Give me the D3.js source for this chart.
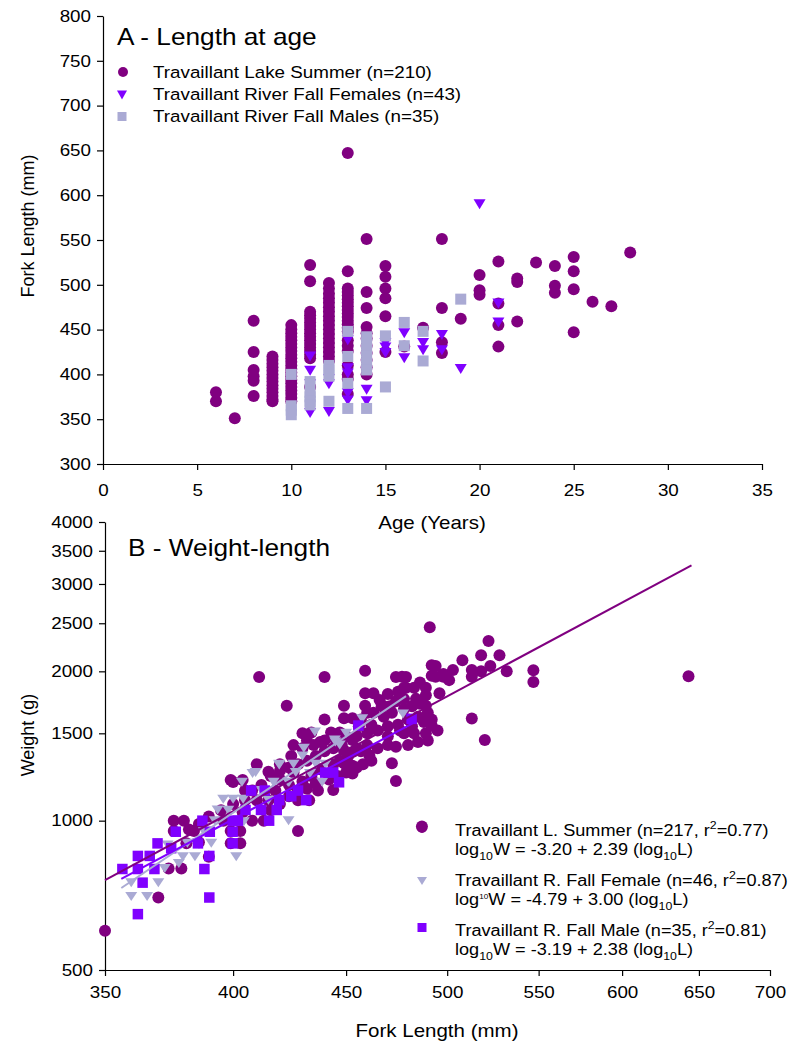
<!DOCTYPE html>
<html><head><meta charset="utf-8">
<script src="https://cdn.jsdelivr.net/npm/d3@7"></script>
<style>
body{margin:0;background:#fff}
svg{display:block}
text{font-family:"Liberation Sans",Arial,sans-serif;fill:#000}
</style>
</head><body>
<svg id="chart" width="797" height="1049"></svg>
<script>
// ---------------- DATA ----------------
const ageTicks = [0,5,10,15,20,25,30,35];
const lengthTicksA = [300,350,400,450,500,550,600,650,700,750,800];
const forkTicksB = [350,400,450,500,550,600,650,700];
const weightTicksB = [500,1000,1500,2000,2500,3000,3500,4000];

const seriesNamesA = ["Travaillant Lake Summer (n=210)","Travaillant River Fall Females (n=43)","Travaillant River Fall Males (n=35)"];

// Panel A: [age, fork length]
const lakeSummerA = [
[6,380],[6,370],[7,351],
[8,460],[8,425],[8,405],[8,398],[8,393],[8,376],
[9,420],[9,416],[9,412],[9,408],[9,404],[9,400],[9,396],[9,392],[9,388],[9,384],[9,380],[9,376],[9,372],[9,370],
[10,455],[10,450],[10,446],[10,442],[10,438],[10,434],[10,430],[10,426],[10,422],[10,418],[10,414],[10,410],[10,406],[10,402],[10,398],[10,394],[10,390],[10,386],[10,382],[10,378],[10,374],[10,370],
[11,522],[11,504],[11,470],[11,466],[11,462],[11,458],[11,454],[11,450],[11,446],[11,442],[11,438],[11,434],[11,430],[11,426],[11,422],[11,418],[11,386],
[12,502],[12,496],[12,490],[12,485],[12,480],[12,475],[12,470],[12,465],[12,460],[12,455],[12,450],[12,445],[12,440],[12,435],[12,430],[12,425],[12,420],[12,415],
[13,647],[13,515],[13,496],[13,492],[13,488],[13,484],[13,480],[13,476],[13,472],[13,468],[13,464],[13,460],[13,456],[13,452],[13,448],[13,438],[13,432],[13,426],[13,410],[13,400],[13,395],[13,378],
[14,551],[14,492],[14,474],[14,453],[14,446],[14,440],[14,432],[14,424],[14,416],[14,408],[14,400],
[15,521],[15,509],[15,496],[15,485],[15,465],[15,425],
[16,431],[17,452],
[18,551],[18,474],[18,436],[18,424],
[19,462],
[20,511],[20,494],[20,489],
[21,526],[21,479],[21,455],[21,431],
[22,507],[22,503],[22,459],
[23,525],
[24,521],[24,499],[24,491],
[25,531],[25,515],[25,495],[25,447],
[26,481],[27,476],[28,536]
];
const riverFemalesA = [
[11,420],[11,404],[11,389],[11,357],
[12,395],[12,389],[12,358],
[13,438],[13,407],[13,401],[13,379],[13,371],
[14,383],[14,370],
[15,435],[15,430],[15,424],
[16,446],[16,418],
[17,435],[17,427],
[18,444],[18,427],
[19,406],[20,590],
[21,479],[21,458]
];
const riverMalesA = [
[10,400],[10,365],[10,360],[10,355],
[11,392],[11,380],[11,375],[11,370],[11,366],
[12,410],[12,405],[12,398],[12,370],
[13,448],[13,420],[13,390],[13,362],
[14,442],[14,435],[14,428],[14,420],[14,412],[14,405],[14,362],
[15,443],[15,386],
[16,458],[16,432],
[17,448],[17,415],
[19,484]
];

// Panel B: [fork length mm, weight g]
const lakeSummerB = [
[350,600],[370,700],[374,801],[379,801],[381,900],[376,953],[384,953],[376,1000],[380,1000],[386,905],[390,846],
[399,953],[403,953],[399,900],[403,900],[396,1000],[404,1040],[408,1000],[413,1000],[410,1100],[415,1100],
[399,1208],[404,1208],[410,1300],[415,1255],[400,1196],[405,1150],[412,1180],[418,1150],[420,1210],[424,1180],
[428,953],[428,1100],[433,1100],[437,1150],[444,1153],
[426,1250],[430,1200],[434,1230],[438,1270],[442,1245],[444,1300],[447,1320],[453,1245],[451,1350],[453,1290],
[453,1375],[453,1454],[449,1385],[449,1305],[457,1380],[461,1355],[465,1400],[470,1420],[474,1409],[472,1305],
[474,1202],[487,973],[430,1500],[434,1505],[443,1505],[447,1505],[440,1600],[449,1608],[453,1608],[423,1705],
[449,1705],[459,1705],[459,1806],[463,1806],[440,1948],[411,1948],[459,2005],[474,1948],[479,1948],[479,1853],
[483,1853],[489,1853],[492,2058],[497,1960],[492,1960],[496,1806],[468,1700],[471,1700],
[491,2454],[522,2302],[518,2155],[528,2155],[508,2105],[494,2050],[523,2050],[513,2012],[518,2000],[503,2012],
[498,1975],[532,2000],[547,2010],[547,1904],[643,1955],[494,1950],[477,1950],[498,1950],[501,1920],[513,1950],
[478,1853],[489,1790],[484,1760],[489,1705],[513,1606],[520,1454],[492,1554],[483,1500],[489,1500],[478,1500],
[455,1480],[460,1500],[465,1520],[470,1550],[475,1560],[480,1600],[485,1620],[490,1650],[462,1560],[468,1620],
[472,1650],[478,1680],[482,1700],[486,1720],[457,1600],[463,1650],[467,1700],[474,1740],[478,1760],[470,1480],
[476,1520],[482,1550],[488,1580],[492,1600],[495,1520],[490,1450],[485,1440],[480,1420],[460,1420],[455,1400],
[448,1420],[444,1400],[440,1380],[436,1350],[432,1320],[428,1300],[424,1280],[420,1260],[416,1230],[440,1450],
[445,1460],[450,1480],[420,1300],[425,1350],[430,1400],[435,1420],[438,1440],[426,1420],[432,1450],
[405,1100],[408,1150],[400,1080],[395,1050],[390,1020],[386,985],[382,960],[416,1050],[420,1080],[424,1120],
[428,1150],[432,1160],[436,1190],[442,1210],[446,1230],[450,1250],[455,1280],[458,1300],[462,1320],
[466,1750],[470,1800],[475,1820],[486,1900],[460,1650],[456,1550]
];
const riverFemaleB = [
[359.7,703],[365.7,703],[359.7,750],[373.6,893],[372.5,801],[379.6,846],[384.4,846],[381.4,900],[391,900],[401.3,846],
[423.8,1000],[392.4,1000],[393.6,1051],[395.9,1105],[400,1105],[404.2,1105],[408.2,1245],[403.7,1195],[417.2,1195],[423.6,1195],
[419.7,1300],[426,1300],[433.4,1245],[438.9,1195],[404.5,995],[430.6,1399],[419.7,1295],[440.4,1300],[409.5,1250],[424,1195],
[435.6,1510],[444.7,1454],[477.5,1640],[457.6,1604],[370,750],[388,950],[412,1150],[430,1350],[445,1440],[450,1500],
[415,1100],[398,1050],[378,820],[436,1300],[447,1420],[427,1250]
];
const riverMaleB = [
[356.4,799],[362.2,849],[366.7,849],[362.2,799],[364,750],[362.2,648],[369.7,900],[376.8,950],[368.5,799],[390.2,700],
[388.2,799],[390.2,849],[385.6,900],[387.4,1000],[390.4,950],[399.8,1000],[399.8,950],[399.8,900],[405.2,1051],[411.8,1051],
[418.6,1051],[415.3,1000],[407.6,1150],[413.4,1150],[419.7,1100],[428,1150],[431.7,1100],[440.3,1250],[446.7,1195],[455.8,1555],
[481.8,1604],[444,1250],[375,880],[402,1000],[425,1120]
];

// regression fits from the legend: log10W = a + b log10L, drawn over the observed length range
const fitIntercepts = [-3.20, -4.79, -3.19];
const fitSlopes = [2.39, 3.00, 2.38];
const fitRanges = [[350,645],[356,479],[356,483]];

// ---------------- DRAW ----------------
const SX = 1.14;
const PURPLE = "#800080", VIOLET = "#8000ff", LAV = "#aaaad4";
const svg = d3.select("#chart");

function txt(parent, x, y, s, fs, anchor, rot) {
  const t = parent.append("text")
    .attr("transform", `translate(${x},${y})` + (rot ? ` rotate(${rot})` : "") + (rot ? "" : ` scale(${SX},1)`))
    .attr("font-size", fs).attr("text-anchor", anchor || "start").text(s);
  return t;
}
function rich(parent, x, y, parts, fs, sx) {
  const t = parent.append("text").attr("transform", `translate(${x},${y}) scale(${sx},1)`).attr("font-size", fs);
  let off = 0;
  parts.forEach(([s, k]) => {
    const target = k === "sub" ? fs * 0.32 : k === "sup" ? -fs * 0.42 : k === "tsup" ? -fs * 0.38 : 0;
    const sz = (k === "sub" || k === "sup") ? fs * 0.68 : k === "tsup" ? fs * 0.45 : fs;
    t.append("tspan").attr("dy", target - off).attr("font-size", sz).text(s);
    off = target;
  });
}
const triPath = (w, h) => `M${-w/2},${-h/2}L${w/2},${-h/2}L0,${h/2}Z`;

function drawCircles(g, data, x, y, r, color) {
  g.selectAll(null).data(data).join("circle")
    .attr("cx", d => x(d[0])).attr("cy", d => y(d[1])).attr("r", r).attr("fill", color);
}
function drawTris(g, data, x, y, w, h, color) {
  g.selectAll(null).data(data).join("path")
    .attr("d", triPath(w, h)).attr("transform", d => `translate(${x(d[0])},${y(d[1])})`).attr("fill", color);
}
function drawSquares(g, data, x, y, s, color) {
  g.selectAll(null).data(data).join("rect")
    .attr("x", d => x(d[0]) - s/2).attr("y", d => y(d[1]) - s/2).attr("width", s).attr("height", s).attr("fill", color);
}
function styleAxis(g) {
  g.selectAll("path.domain").attr("stroke", "#000").attr("stroke-width", 1.2);
  g.selectAll(".tick line").attr("stroke", "#000").attr("stroke-width", 1.2);
  g.selectAll(".tick text").attr("font-family", '"Liberation Sans",Arial,sans-serif').attr("font-size", 16.5).attr("fill", "#000");
}

// ---------- Panel A ----------
const xA = d3.scaleLinear().domain([0, 35]).range([103, 762]);
const yA = d3.scaleLinear().domain([300, 800]).range([464, 16]);
const gA = svg.append("g");

const axA_y = gA.append("g").attr("transform", "translate(103,0)")
  .call(d3.axisLeft(yA).tickValues(lengthTicksA).tickSize(6).tickSizeOuter(0).tickPadding(6));
const axA_x = gA.append("g").attr("transform", "translate(0,464)")
  .call(d3.axisBottom(xA).tickValues(ageTicks).tickSize(6).tickSizeOuter(0).tickPadding(14));
[axA_y, axA_x].forEach(styleAxis);
axA_y.selectAll(".tick text").attr("transform", `scale(${SX},1)`).attr("x", -10.5);
axA_x.selectAll(".tick text").attr("transform", `scale(${SX},1)`);

drawCircles(gA, lakeSummerA, xA, yA, 6, PURPLE);
drawTris(gA, riverFemalesA, xA, yA, 12, 10, VIOLET);
drawSquares(gA, riverMalesA, xA, yA, 11, LAV);

txt(gA, 117, 45, "A - Length at age", 23);
// legend A
gA.append("circle").attr("cx", 123).attr("cy", 72).attr("r", 5).attr("fill", PURPLE);
gA.append("path").attr("d", triPath(10, 9)).attr("transform", "translate(122,95)").attr("fill", VIOLET);
gA.append("rect").attr("x", 117.5).attr("y", 112).attr("width", 9).attr("height", 9).attr("fill", LAV);
txt(gA, 153, 78, seriesNamesA[0], 16.5);
txt(gA, 153, 100, seriesNamesA[1], 16.5);
txt(gA, 153, 122, seriesNamesA[2], 16.5);

txt(gA, 28, 226, "Fork Length (mm)", 18, "middle", -90).attr("dy", "0.35em");
txt(gA, 432, 529, "Age (Years)", 18, "middle");

// ---------- Panel B ----------
const xB = d3.scaleLog().domain([350, 700]).range([105, 770]);
const yB = d3.scaleLog().domain([500, 4000]).range([970, 522]);
const gB = svg.append("g");

const axB_y = gB.append("g").attr("transform", "translate(105,0)")
  .call(d3.axisLeft(yB).tickValues(weightTicksB).tickFormat(d3.format("d")).tickSize(6).tickSizeOuter(0).tickPadding(6));
const axB_x = gB.append("g").attr("transform", "translate(0,970)")
  .call(d3.axisBottom(xB).tickValues(forkTicksB).tickFormat(d3.format("d")).tickSize(6).tickSizeOuter(0).tickPadding(10));
[axB_y, axB_x].forEach(styleAxis);
axB_y.selectAll(".tick text").attr("transform", `scale(${SX},1)`).attr("x", -10.5);
axB_x.selectAll(".tick text").attr("transform", `scale(${SX},1)`);

drawCircles(gB, lakeSummerB, xB, yB, 6, PURPLE);
drawTris(gB, riverFemaleB, xB, yB, 12, 9, LAV);
drawSquares(gB, riverMaleB, xB, yB, 10.5, VIOLET);

const fitColors = [PURPLE, LAV, VIOLET];
fitIntercepts.forEach((a, i) => {
  const b = fitSlopes[i];
  const pts = fitRanges[i].map(L => [L, Math.pow(10, a + b * Math.log10(L))]);
  gB.append("path").attr("d", d3.line().x(d => xB(d[0])).y(d => yB(d[1]))(pts))
    .attr("stroke", fitColors[i]).attr("stroke-width", 2).attr("fill", "none");
});

txt(gB, 128, 556, "B - Weight-length", 23);
txt(gB, 28, 735, "Weight (g)", 18, "middle", -90).attr("dy", "0.35em");
txt(gB, 437, 1037, "Fork Length (mm)", 18, "middle");

// legend B
gB.append("circle").attr("cx", 422).attr("cy", 828).attr("r", 5).attr("fill", PURPLE);
gB.append("path").attr("d", triPath(10, 8)).attr("transform", "translate(422,881)").attr("fill", LAV);
gB.append("rect").attr("x", 417.5).attr("y", 923).attr("width", 9).attr("height", 9).attr("fill", VIOLET);
const LX = 455, LFS = 16.2, LSX = 1.12;
rich(gB, LX, 836, [["Travaillant L. Summer (n=217, r",""],["2","sup"],["=0.77)",""]], LFS, LSX);
rich(gB, LX, 855, [["log",""],["10","sub"],["W = -3.20 + 2.39 (log",""],["10","sub"],["L)",""]], LFS, LSX);
rich(gB, LX, 886, [["Travaillant R. Fall Female (n=46, r",""],["2","sup"],["=0.87)",""]], LFS, LSX);
rich(gB, LX, 905, [["log",""],["10","tsup"],["W = -4.79 + 3.00 (log",""],["10","sub"],["L)",""]], LFS, LSX);
rich(gB, LX, 936, [["Travaillant R. Fall Male (n=35, r",""],["2","sup"],["=0.81)",""]], LFS, LSX);
rich(gB, LX, 955, [["log",""],["10","sub"],["W = -3.19 + 2.38 (log",""],["10","sub"],["L)",""]], LFS, LSX);
</script>
</body></html>
